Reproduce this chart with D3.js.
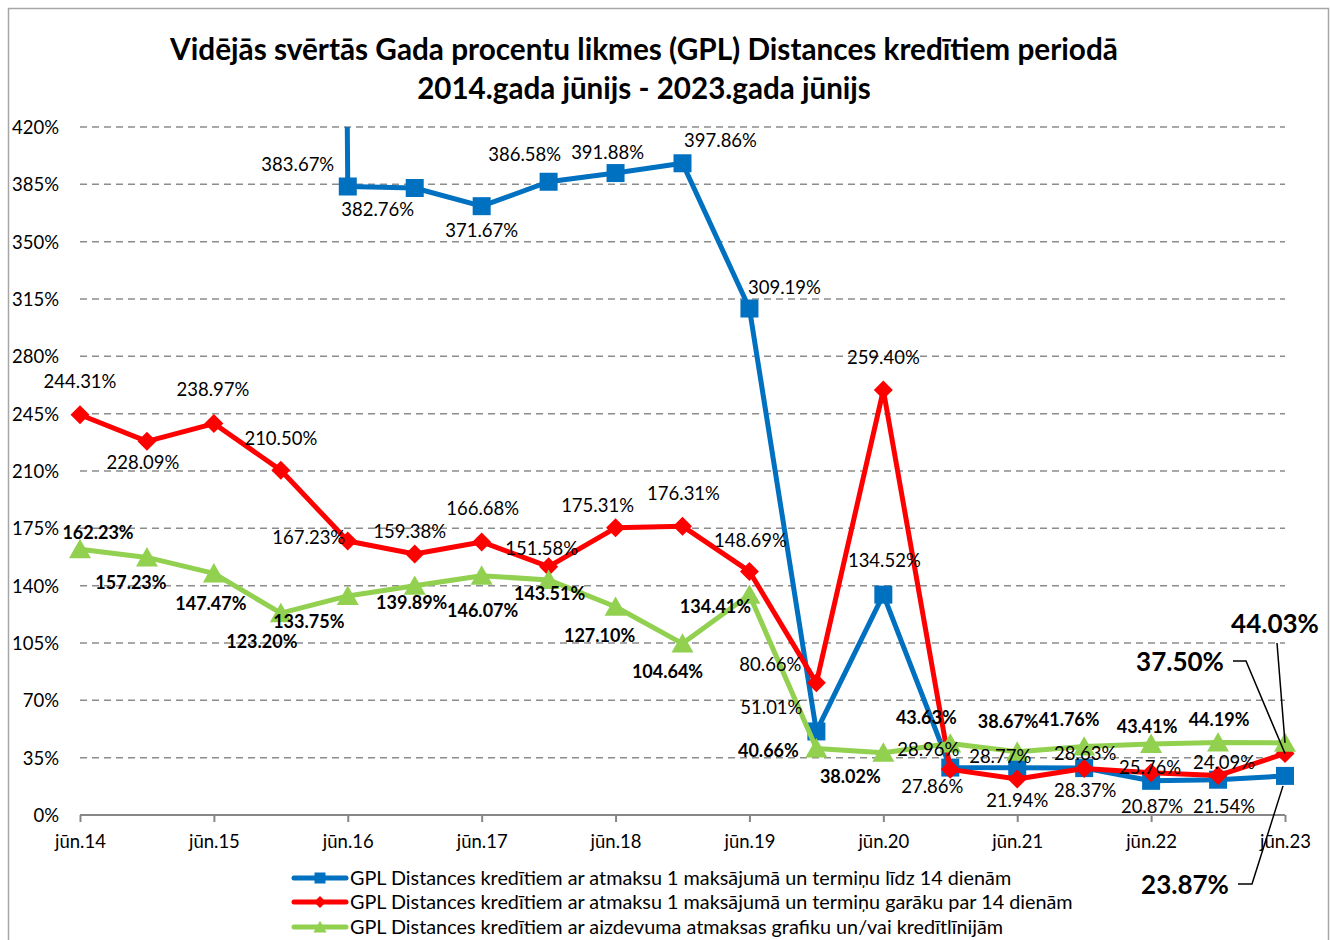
<!DOCTYPE html>
<html><head><meta charset="utf-8">
<script src="https://cdn.jsdelivr.net/npm/d3@7"></script>
<style>
body{margin:0;background:#fff}
svg{display:block}
text{font-family:Lato,"Open Sans","Noto Sans",sans-serif;fill:#000}
</style>
</head><body>
<svg id="chart" width="1330" height="940"></svg>
<script>
// ---------- data ----------
const categories = ["jūn.14","dec.14","jūn.15","dec.15","jūn.16","dec.16","jūn.17","dec.17","jūn.18","dec.18",
  "jūn.19","dec.19","jūn.20","dec.20","jūn.21","dec.21","jūn.22","dec.22","jūn.23"];
// dec.15 value is far above the axis (only a near-vertical segment is visible) - estimated
const blueValues  = [null,null,null,5300,383.67,382.76,371.67,386.58,391.88,397.86,309.19,51.01,134.52,28.96,28.77,28.63,20.87,21.54,23.87];
const redValues   = [244.31,228.09,238.97,210.50,167.23,159.38,166.68,151.58,175.31,176.31,148.69,80.66,259.40,27.86,21.94,28.37,25.76,24.09,37.50];
const greenValues = [162.23,157.23,147.47,123.20,133.75,139.89,146.07,143.51,127.10,104.64,134.41,40.66,38.02,43.63,38.67,41.76,43.41,44.19,44.03];
const yTickValues = [0,35,70,105,140,175,210,245,280,315,350,385,420];
const xTickLabels = ["jūn.14","jūn.15","jūn.16","jūn.17","jūn.18","jūn.19","jūn.20","jūn.21","jūn.22","jūn.23"];
const seriesNames = [
  "GPL Distances kredītiem ar atmaksu 1 maksājumā un termiņu līdz 14 dienām",
  "GPL Distances kredītiem ar atmaksu 1 maksājumā un termiņu garāku par 14 dienām",
  "GPL Distances kredītiem ar aizdevuma atmaksas grafiku un/vai kredītlīnijām"
];
const titleLines = ["Vidējās svērtās Gada procentu likmes (GPL) Distances kredītiem periodā",
  "2014.gada jūnijs - 2023.gada jūnijs"];

// ---------- layout (label offsets, px from point) ----------
const blueLabelOff = [null,null,null,null,[-50,-22],[-37,22],[0,24],[-24,-27],[-8,-21],[38,-23],[35,-21],[-45,-24],[1,-34],[-22,-18],[-17,-11],[1,-15],[1,26],[6,27],null];
const redLabelOff  = [[0,-33],[-4,21],[-1,-34],[0,-32],[-39,-4],[-5,-22],[1,-33],[-7,-18],[-18,-22],[1,-33],[1,-31],[-46,-18],[0,-33],[-18,17],[0,21],[1,22],[-1,-5],[6,-13],null];
const greenLabelOff= [[18,-17],[-16,25],[-3,30],[-19,29],[-39,26],[-3,17],[1,35],[1,14],[-16,29],[-15,28],[-34,12],[-48,2],[-33,24],[-24,-26],[-9,-30],[-15,-27],[-4,-17],[1,-23],null];

const svg = d3.select("#chart");
const W = 1330, H = 940;
const plot = {left:80, right:1285, top:127, bottom:815};

svg.append("rect").attr("x",8.5).attr("y",8.5).attr("width",1320).attr("height",960)
  .attr("fill","#fff").attr("stroke","#a6a6a6").attr("stroke-width",1.5);

const x = d3.scalePoint().domain(categories).range([plot.left, plot.right]);
const y = d3.scaleLinear().domain([0,420]).range([plot.bottom, plot.top]);

// title
titleLines.forEach((t,i)=>{
  const el = svg.append("text").attr("x",644).attr("y", i===0?60:99)
    .attr("text-anchor","middle").attr("font-weight","bold").attr("font-size",26).text(t);
  const target = i===0 ? 948 : 454;
  const w = el.node().getComputedTextLength();
  el.attr("font-size", 26*target/w);
});

// gridlines
svg.append("g").selectAll("line").data(yTickValues.filter(v=>v>0)).join("line")
  .attr("x1",plot.left).attr("x2",plot.right)
  .attr("y1",d=>y(d)).attr("y2",d=>y(d))
  .attr("stroke","#8c8c8c").attr("stroke-width",1.5).attr("stroke-dasharray","7,5");

// y axis labels
const yAxis = d3.axisLeft(y).tickValues(yTickValues).tickFormat(d=>d+"%").tickSize(0).tickPadding(0);
const gy = svg.append("g").attr("transform",`translate(59,0)`).call(yAxis);
gy.select(".domain").remove();
gy.selectAll("text").attr("font-size",18.5).attr("font-family","Lato").attr("fill","#000").attr("dy","0.35em");

// x axis
const xAxis = d3.axisBottom(x).tickValues(xTickLabels).tickSize(7).tickPadding(13);
const gx = svg.append("g").attr("transform",`translate(0,${plot.bottom})`).call(xAxis);
gx.select(".domain").attr("stroke","#868686").attr("stroke-width",2).attr("d",`M${plot.left},0H${plot.right}`);
gx.selectAll(".tick line").attr("stroke","#868686").attr("stroke-width",2);
gx.selectAll("text").attr("font-size",18.5).attr("font-family","Lato").attr("fill","#000");

// clip
svg.append("clipPath").attr("id","clip").append("rect")
  .attr("x",0).attr("y",plot.top).attr("width",W).attr("height",plot.bottom-plot.top+20);

const series = [
  {vals:blueValues, color:"#0070C0", marker:"square", off:blueLabelOff, bold:false},
  {vals:redValues, color:"#FF0000", marker:"diamond", off:redLabelOff, bold:false},
  {vals:greenValues, color:"#92D050", marker:"triangle", off:greenLabelOff, bold:true}
];

function markerPath(type, s){
  if(type==="square") return `M${-s/2},${-s/2}h${s}v${s}h${-s}Z`;
  if(type==="diamond") return `M0,${-s/2}L${s/2},0L0,${s/2}L${-s/2},0Z`;
  return `M0,${-s*0.52}L${s*0.55},${s*0.45}L${-s*0.55},${s*0.45}Z`;
}
const markerSize = {square:18, diamond:19, triangle:20};

const line = d3.line().defined(d=>d.v!=null).x(d=>x(d.c)).y(d=>y(d.v));
const gLines = svg.append("g").attr("clip-path","url(#clip)");
series.forEach(s=>{
  const pts = categories.map((c,i)=>({c, v:s.vals[i], i}));
  gLines.append("path").datum(pts).attr("d",line).attr("fill","none")
    .attr("stroke",s.color).attr("stroke-width",5).attr("stroke-linejoin","round");
  gLines.append("g").selectAll("path").data(pts.filter(d=>d.v!=null && d.v<=420)).join("path")
    .attr("transform",d=>`translate(${x(d.c)},${y(d.v)})`)
    .attr("d",markerPath(s.marker, markerSize[s.marker])).attr("fill",s.color);
});

// data labels
const gLab = svg.append("g");
series.forEach(s=>{
  s.vals.forEach((v,i)=>{
    const o = s.off[i];
    if(v==null || !o || v>420) return;
    gLab.append("text").attr("x",x(categories[i])+o[0]).attr("y",y(v)+o[1])
      .attr("text-anchor","middle").attr("dy","0.35em")
      .attr("font-size", s.bold?18:18.5).attr("font-weight", s.bold?"bold":"normal")
      .text(v.toFixed(2)+"%");
  });
});

// last-point callouts
const last = categories.length-1;
const lx = x(categories[last]);
const callouts = [
  {v:greenValues[last], lab:[1275,624], path:(px,py)=>`M1277,643L${px},${py}`},
  {v:redValues[last], lab:[1180,662], path:(px,py)=>`M1233,661H1246L${px},${py}`},
  {v:blueValues[last], lab:[1185,885], path:(px,py)=>`M1238,884H1252L${px-2},${py+10}`}
];
callouts.forEach(c=>{
  svg.append("path").attr("d",c.path(lx,y(c.v))).attr("fill","none").attr("stroke","#000").attr("stroke-width",1.5);
  svg.append("text").attr("x",c.lab[0]).attr("y",c.lab[1]).attr("dy","0.35em").attr("text-anchor","middle")
    .attr("font-size",26).attr("font-weight","bold").text(c.v.toFixed(2)+"%");
});

// legend
const legY = [878,902,927];
let legendScale = 1;
series.forEach((s,i)=>{
  const g = svg.append("g").attr("transform",`translate(0,${legY[i]})`);
  g.append("line").attr("x1",294).attr("x2",346).attr("stroke",s.color).attr("stroke-width",5).attr("stroke-linecap","round");
  g.append("path").attr("transform","translate(320,0)").attr("d",markerPath(s.marker, s.marker==="square"?11:12)).attr("fill",s.color);
  const t = g.append("text").attr("x",350).attr("dy","0.35em").attr("font-size",17).text(seriesNames[i]);
  if(i===0){ const w=t.node().getComputedTextLength(); legendScale = 662/w; }
  t.attr("font-size",17*legendScale);
});
</script>
</body></html>
